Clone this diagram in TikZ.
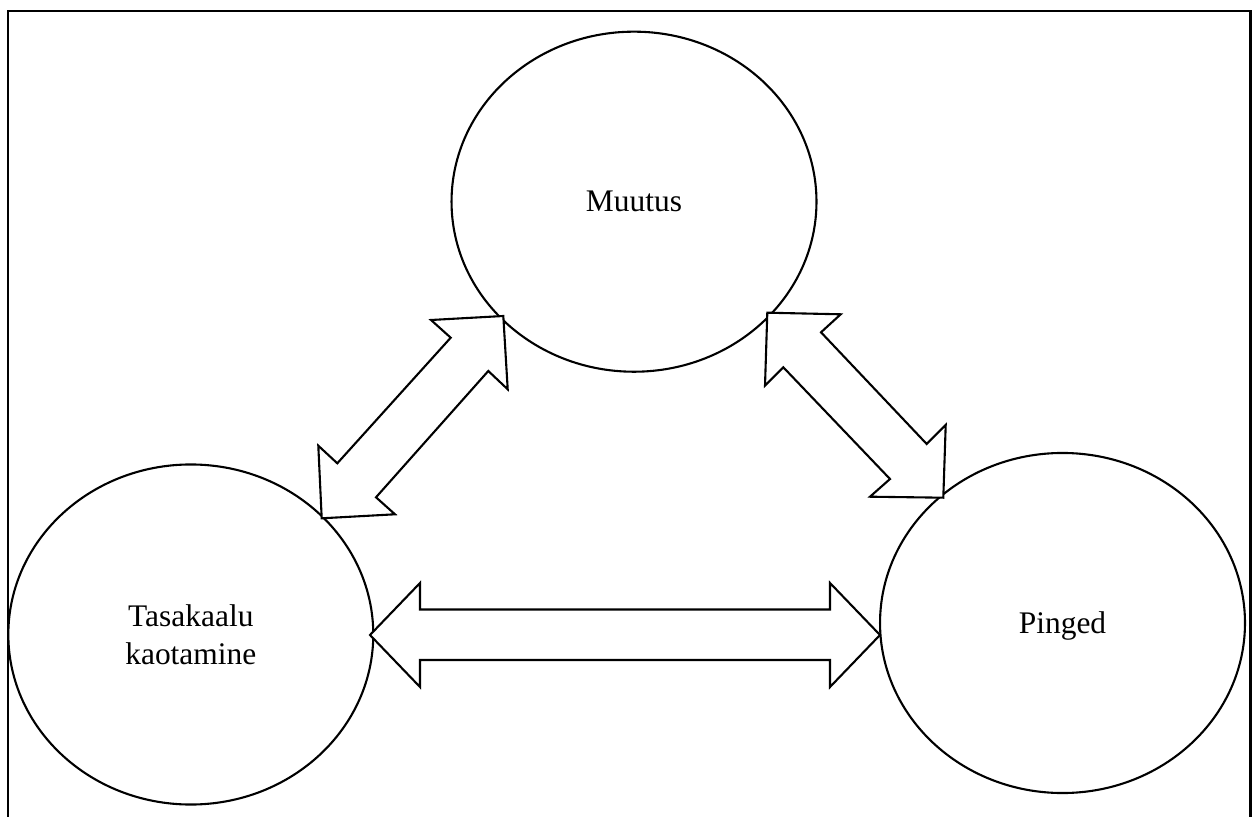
\documentclass[tikz,border=0pt]{standalone}
\usepackage{fontspec}
\setmainfont{Liberation Serif}
\usepackage{tikz}
\usetikzlibrary{shapes.geometric}

\tikzset{
  bubble/.style={ draw, ellipse, line width=0.8pt, inner sep=0pt, minimum width=139.3pt, minimum height=129.8pt, font=\fontsize{12}{14.5}\selectfont, align=center }
}
\tikzset{
  blockarrow/.style={ draw, fill=white, line width=0.8pt, line join=miter }
}
\tikzset{
  frameline/.style={ draw, line width=0.9pt }
}

\begin{document}
\begin{tikzpicture}[x=0.3817pt, y=-0.3817pt]
      \useasboundingbox (0,0) rectangle (1257,817);
      \draw[frameline] (8,830) -- (8,11) -- (1250.5,11) -- (1250.5,830);

      \node[bubble] (muutus) at (634,201.7) {Muutus};
      \node[bubble] (tasakaal) at (190.8,634.5) {Tasakaalu\\kaotamine};
      \node[bubble, text depth=0pt] (pinged) at (1062.5,623) {Pinged};

      % Muutus <-> Tasakaalu kaotamine
      \draw[blockarrow] (321.7,518.3) -- (318.3,445.7) -- (337.3,463.3) -- (450.7,337.7)
        -- (431,320) -- (503.3,316) -- (507.7,389.3) -- (488.3,371)
        -- (376,497.3) -- (395,514.3) -- cycle;
      % Muutus <-> Pinged
      \draw[blockarrow] (767.3,312.7) -- (840.7,314.3) -- (821,332.3) -- (926.7,444)
        -- (945.7,425) -- (943.3,497.7) -- (870,496.7) -- (890,479)
        -- (783.3,367.3) -- (765,385.7) -- cycle;
      % Tasakaalu kaotamine <-> Pinged
      \draw[blockarrow] (370,635) -- (420,583) -- (420,609.5) -- (830,609.5)
        -- (830,583) -- (880,635) -- (830,687) -- (830,660)
        -- (420,660) -- (420,687) -- cycle;
\end{tikzpicture}
\end{document}
